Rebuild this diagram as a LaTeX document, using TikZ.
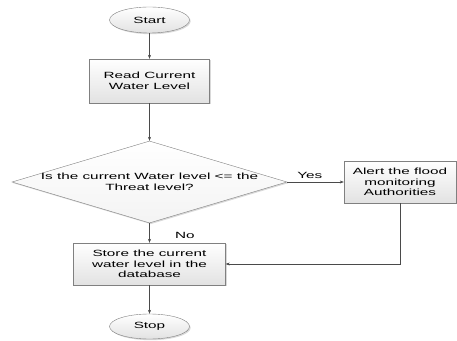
\documentclass[tikz,border=0pt]{standalone}
\usepackage{fontspec}
\setmainfont[FakeStretch=1.7]{Liberation Sans}
\usetikzlibrary{positioning, arrows.meta, shapes.geometric, shadows}
\definecolor{flowline}{HTML}{4A4A4A}
\definecolor{flowedge}{HTML}{808080}
\definecolor{flowfill}{HTML}{E2E2E2}
\begin{document}
\begin{tikzpicture}[x=1pt, y=1pt,
        every node/.style={font=\fontsize{9}{10.5}\selectfont},
        softshadow/.style={drop shadow={shadow xshift=1.2pt, shadow yshift=-1.2pt, opacity=0.3}},
        terminal/.style={ellipse, draw=flowedge, top color=white, bottom color=flowfill, minimum width=80pt, minimum height=26pt, inner sep=0pt, softshadow},
        flowbox/.style={rectangle, draw=flowedge, top color=white, bottom color=flowfill, align=center, inner sep=0pt, softshadow},
        decision/.style={diamond, draw=flowedge, top color=white, bottom color=white!60!flowfill, minimum width=275pt, minimum height=82pt, inner sep=0pt, softshadow},
        flow/.style={draw=flowline, -{Stealth[length=4pt, width=3pt]}}]
                \useasboundingbox (0,0) rectangle (457,340);
                \node[terminal] (start) at (149.5,320) {Start};
                \node[flowbox, minimum width=120pt, minimum height=44pt] (read) at (149.5,259) {Read Current\\Water Level};
                \node[decision] (check) at (149.5,158) {};
                \node[align=center] (checktext) at (check.center) {Is the current Water level <= the\\Threat level?};
                \node[flowbox, minimum width=112pt, minimum height=42pt] (alert) at (400,158) {Alert the flood\\monitoring\\Authorities};
                \node[flowbox, minimum width=152pt, minimum height=42pt] (store) at (149.5,76) {Store the current\\water level in the\\database};
                \node[terminal, minimum height=25pt] (stop) at (149.5,13.5) {Stop};
                \draw[flow] (start) -- (read);
                \draw[flow] (read) -- (check);
                \draw[flow] (check.east) -- (alert.west) node[pos=0.4, above] (yes) {Yes};
                \draw[flow] (check.south) -- (store.north) node[pos=0.65, right=22pt] (no) {No};
                \draw[flow] (alert.south) |- (store.east);
                \draw[flow] (store) -- (stop);
            \end{tikzpicture}
\end{document}
